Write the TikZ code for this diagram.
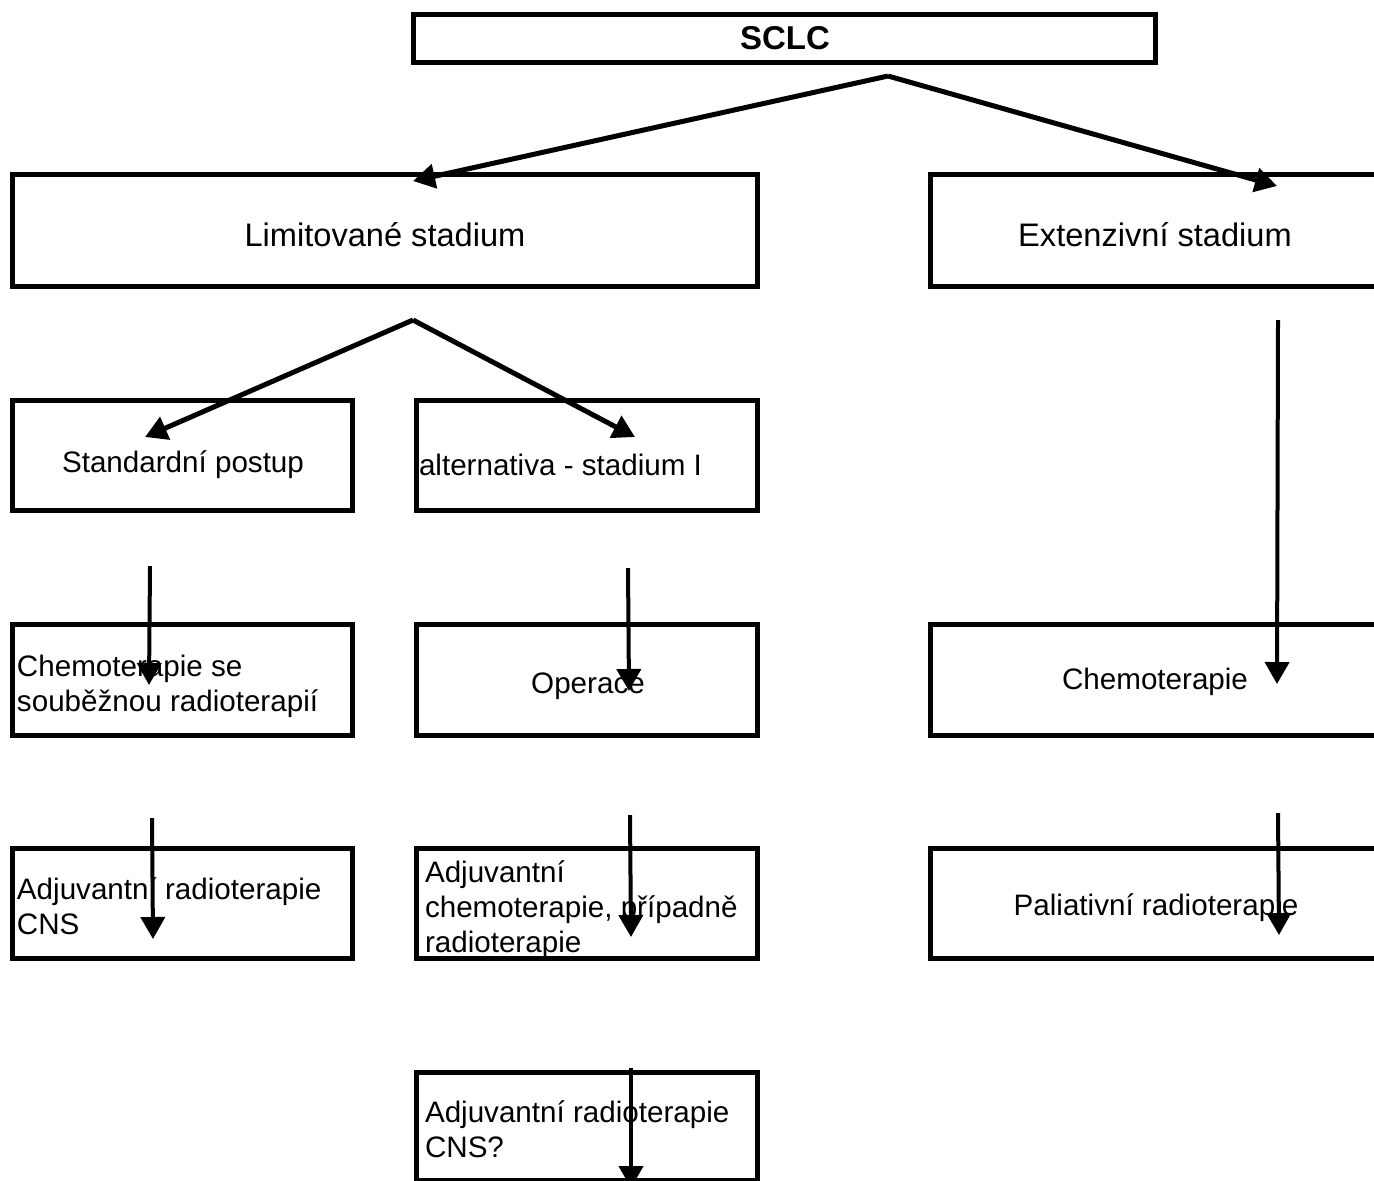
\documentclass[tikz,border=0pt]{standalone}
\usepackage{fontspec}
\setmainfont{Liberation Sans}
\usetikzlibrary{arrows.meta,fit}

\tikzset{
  stagebox/.style={draw=black,line width=2.5pt,inner sep=0pt},
  flowarrow/.style={draw=black,line width=2pt,line cap=butt,
    -{Triangle[length=11pt,width=12pt]}},
  boxtext/.style={font=\fontsize{14.8}{17.5}\selectfont,align=left},
  stagetext/.style={font=\fontsize{16.3}{19}\selectfont},
}

\begin{document}
\begin{tikzpicture}[y=0.5pt, x=0.5pt, yscale=-1, inner sep=0pt, outer sep=0pt]
  \useasboundingbox (0,0) rectangle (1374,1180);

  % boxes
  \node[stagebox,fit={(413,14) (1155,62)}] (sclc) {};
  \node[stagebox,fit={(12,174) (757,286)}] (limited) {};
  \node[stagebox,fit={(930,174) (1400,286)}] (extensive) {};
  \node[stagebox,fit={(12,400) (352,510)}] (standard) {};
  \node[stagebox,fit={(416,400) (757,510)}] (alternative) {};
  \node[stagebox,fit={(12,624) (352,735)}] (chemoradio) {};
  \node[stagebox,fit={(416,624) (757,735)}] (surgery) {};
  \node[stagebox,fit={(930,624) (1400,735)}] (chemo) {};
  \node[stagebox,fit={(12,848) (352,958)}] (pci) {};
  \node[stagebox,fit={(416,848) (757,958)}] (adjchemo) {};
  \node[stagebox,fit={(930,848) (1400,958)}] (palliative) {};
  \node[stagebox,fit={(416,1072) (757,1180)}] (pciq) {};

  % texts (multi-line ones sit on the baseline of their last line)
  \node[font=\fontsize{16.5}{19}\selectfont\bfseries] (sclc-text) at (785,38) {SCLC};
  \node[stagetext] (limited-text) at (385,235) {Limitované stadium};
  \node[stagetext] (extensive-text) at (1155,235) {Extenzivní stadium};
  \node[boxtext] (standard-text) at (183,465) {Standardní postup};
  \node[boxtext,anchor=west] (alternative-text) at (419,465) {alternativa - stadium I};
  \node[boxtext,anchor=base west] (chemoradio-text) at (17,711)
    {Chemoterapie se\\souběžnou radioterapií};
  \node[boxtext] (surgery-text) at (588,686) {Operace};
  \node[boxtext] (chemo-text) at (1155,682) {Chemoterapie};
  \node[boxtext,anchor=base west] (pci-text) at (17,934)
    {Adjuvantní radioterapie\\CNS};
  \node[boxtext,anchor=base west] (adjchemo-text) at (425,952)
    {Adjuvantní\\chemoterapie, případně\\radioterapie};
  \node[boxtext] (palliative-text) at (1156,908) {Paliativní radioterapie};
  \node[boxtext,anchor=base west] (pciq-text) at (425,1157)
    {Adjuvantní radioterapie\\CNS?};

  % arrow ends
  \coordinate (sclc-split) at (888,76);
  \coordinate (limited-in) at (413,181);
  \coordinate (extensive-in) at (1277,186);
  \coordinate (limited-split) at (413,320);
  \coordinate (standard-in) at (145,437);
  \coordinate (alternative-in) at (635,437);
  \coordinate (extensive-out) at (1278,320);
  \coordinate (chemo-in) at (1277,684);
  \coordinate (standard-out) at (150,566);
  \coordinate (chemoradio-in) at (149,685);
  \coordinate (alternative-out) at (628,568);
  \coordinate (surgery-in) at (629,691);
  \coordinate (chemoradio-out) at (152,818);
  \coordinate (pci-in) at (153,939);
  \coordinate (surgery-out) at (630,815);
  \coordinate (adjchemo-in) at (631,937);
  \coordinate (chemo-out) at (1278,813);
  \coordinate (palliative-in) at (1279,935);
  \coordinate (adjchemo-out) at (631,1068);
  \coordinate (pciq-in) at (631,1188);

  % arrows
  \draw[flowarrow,line width=2.5pt] (sclc-split) -- (limited-in);
  \draw[flowarrow,line width=2.5pt] (sclc-split) -- (extensive-in);
  \draw[flowarrow,line width=2.5pt] (limited-split) -- (standard-in);
  \draw[flowarrow,line width=2.5pt] (limited-split) -- (alternative-in);
  \draw[flowarrow] (extensive-out) -- (chemo-in);
  \draw[flowarrow] (standard-out) -- (chemoradio-in);
  \draw[flowarrow] (alternative-out) -- (surgery-in);
  \draw[flowarrow] (chemoradio-out) -- (pci-in);
  \draw[flowarrow] (surgery-out) -- (adjchemo-in);
  \draw[flowarrow] (chemo-out) -- (palliative-in);
  \draw[flowarrow] (adjchemo-out) -- (pciq-in);
\end{tikzpicture}
\end{document}
